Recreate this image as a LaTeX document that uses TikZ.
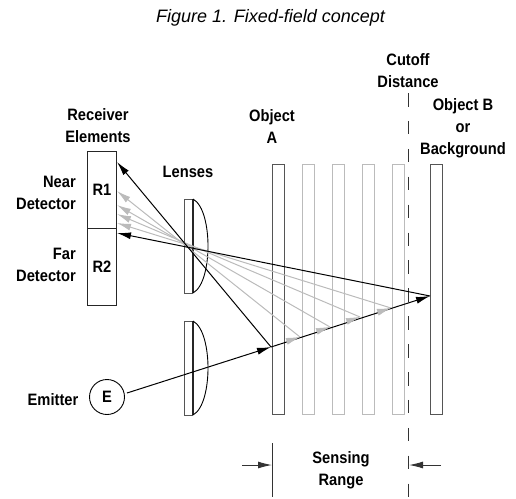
\documentclass[tikz,border=0pt]{standalone}
\usepackage{fontspec}
\setmainfont{Liberation Sans}
\newfontfamily\labfont[FakeStretch=0.89]{Liberation Sans}
\usetikzlibrary{arrows.meta,calc}
\definecolor{ltgray}{HTML}{BBBBBB}
\definecolor{dkgray}{HTML}{555555}
\tikzset{
  lab/.style={font=\labfont\fontsize{16.5}{22}\selectfont\bfseries,align=center,inner sep=0pt},
  labr/.style={lab,align=right,anchor=east},
  objbox/.style={draw=dkgray,line width=1.1pt,minimum width=12pt,minimum height=250pt,inner sep=0pt,anchor=north west},
  greybox/.style={objbox,draw=ltgray},
  recv/.style={draw=black!85,line width=1pt,minimum width=29pt,minimum height=77pt,inner sep=0pt,anchor=north west,font=\labfont\fontsize{16.5}{20}\selectfont\bfseries},
  ray/.style={draw=black,line width=1pt,-{Latex[length=14pt,width=7pt]}},
  greyray/.style={draw=ltgray,line width=1pt,-{Latex[length=14pt,width=7pt,color=ltgray]}},
  tiponly/.style={draw=ltgray,line width=.5pt,-{Latex[length=14pt,width=7pt,color=ltgray]}},
  lensplate/.style={draw=dkgray,line width=.9pt},
  lensflat/.style={draw=black!85,line width=1.4pt},
  lenscurve/.style={draw=black,line width=.9pt},
  cutoff/.style={draw=black!80,line width=1pt,dash pattern=on 13.5pt off 14.4pt},
  dim/.style={draw=black!80,line width=1pt},
  dimarrow/.style={draw=black!80,line width=1pt,-{Latex[length=14pt,width=7pt]}}
}
\begin{document}
\begin{tikzpicture}[x=1pt,y=-1pt]
\useasboundingbox (0,0) rectangle (516,498);
% objects
\node[objbox] (objA) at (272,164) {};
\node[greybox] (g1) at (302,164) {};
\node[greybox] (g2) at (332,164) {};
\node[greybox] (g3) at (362,164) {};
\node[greybox] (g4) at (392,164) {};
\node[objbox] (objB) at (430,164) {};
% receiver
\node[recv] (r1) at (87,151) {R1};
\node[recv] (r2) at (87,228) {R2};
% lenses
\draw[lensplate] (193,199) -- (184,199) -- (184,293) -- (193,293);
\draw[lensflat] (193,199) -- (193,293);
\draw[lenscurve] (193,199) .. controls (204,205) and (208,228) .. (208,246) .. controls (208,264) and (204,287) .. (193,293);
\draw[lensplate] (193,321) -- (184,321) -- (184,415) -- (193,415);
\draw[lensflat] (193,321) -- (193,415);
\draw[lenscurve] (193,321) .. controls (204,327) and (208,350) .. (208,368) .. controls (208,386) and (204,409) .. (193,415);
% emitter
\node[draw=black,line width=.9pt,circle,minimum size=35pt,inner sep=0pt,font=\labfont\fontsize{16.5}{20}\selectfont\bfseries] (em) at (107,397) {E};
% cutoff line and sensing range
\coordinate (cutT) at (408,93);
\coordinate (cutB) at (408,497);
\draw[cutoff] (cutT) -- (cutB);
\coordinate (senT) at (272,443);
\coordinate (senB) at (272,497);
\draw[dim] (senT) -- (senB);
\coordinate (dl0) at (242,465);
\coordinate (dl1) at (272,465);
\coordinate (dr0) at (441,465);
\coordinate (dr1) at (409,465);
\draw[dimarrow] (dl0) -- (dl1);
\draw[dimarrow] (dr0) -- (dr1);
% beam points
\coordinate (emOut) at (127,393);
\coordinate (hitA) at (271,347);
\coordinate (hitB) at (430,296);
\coordinate (h1) at (300,337);
\coordinate (h2) at (330,327);
\coordinate (h3) at (360,317);
\coordinate (h4) at (391,308);
\coordinate (t1) at (117,191);
\coordinate (t2) at (117,205);
\coordinate (t3) at (117,214);
\coordinate (t4) at (117,223);
\coordinate (tA) at (117,162);
\coordinate (tB) at (117,233);
% grey rays
\draw[greyray] (h1) -- (t1);
\draw[greyray] (h2) -- (t2);
\draw[greyray] (h3) -- (t3);
\draw[greyray] (h4) -- (t4);
% black rays
\draw[ray] (emOut) -- (hitA);
\draw[ray] (hitA) -- (hitB);
\draw[ray] (hitA) -- (tA);
\draw[ray] (hitB) -- (tB);
% grey heads on beam
\draw[tiponly] ($(h1)!14pt!(emOut)$) -- (h1);
\draw[tiponly] ($(h2)!14pt!(emOut)$) -- (h2);
\draw[tiponly] ($(h3)!14pt!(emOut)$) -- (h3);
\draw[tiponly] ($(h4)!14pt!(emOut)$) -- (h4);
% labels
\node[font=\fontsize{18}{20}\selectfont\itshape,inner sep=0pt] (title) at (270.5,18) {Figure 1. Fixed-field concept};
\node[lab] (lrecv) at (98,125.5) {Receiver\\Elements};
\node[labr] (lnear) at (76,192.5) {Near\\Detector};
\node[labr] (lfar) at (76,264.5) {Far\\Detector};
\node[lab] (llens) at (188,172) {Lenses};
\node[lab] (lA) at (272,127) {Object\\A};
\node[lab] (lcut) at (408,71) {Cutoff\\Distance};
\node[lab] (lB) at (463,128) {Object B\\or\\Background};
\node[lab] (lsense) at (341,470) {Sensing\\Range};
\node[lab] (lem) at (53,400) {Emitter};
\end{tikzpicture}
\end{document}
